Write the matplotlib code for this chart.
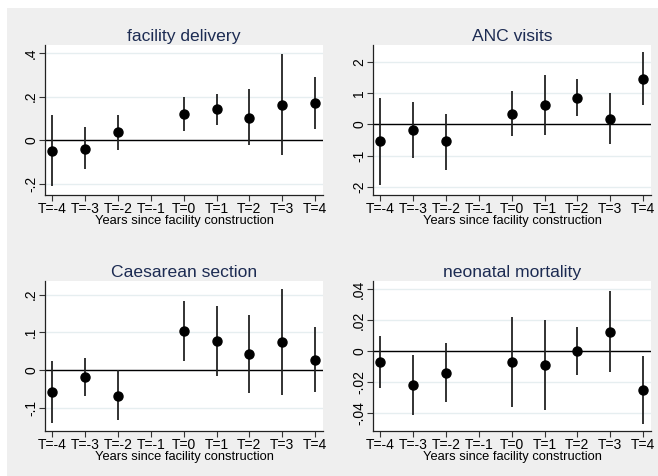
import matplotlib
matplotlib.use("Agg")
import matplotlib.pyplot as plt
from matplotlib.patches import Rectangle

plt.rcParams['font.family'] = ['Liberation Sans', 'DejaVu Sans']

t_labels = ["T=-4", "T=-3", "T=-2", "T=-1", "T=0", "T=1", "T=2", "T=3", "T=4"]
t_vals = [-4, -3, -2, -1, 0, 1, 2, 3, 4]
est_t = [-4, -3, -2, 0, 1, 2, 3, 4]

titles = ["facility delivery", "ANC visits", "Caesarean section", "neonatal mortality"]

fac_est = [-0.047, -0.038, 0.036, 0.120, 0.142, 0.103, 0.162, 0.170]
fac_lo = [-0.209, -0.133, -0.042, 0.041, 0.070, -0.023, -0.068, 0.052]
fac_hi = [0.117, 0.059, 0.114, 0.198, 0.214, 0.233, 0.394, 0.288]

anc_est = [-0.54, -0.17, -0.55, 0.34, 0.61, 0.84, 0.18, 1.44]
anc_lo = [-1.93, -1.09, -1.45, -0.39, -0.35, 0.26, -0.64, 0.60]
anc_hi = [0.84, 0.70, 0.34, 1.07, 1.56, 1.43, 1.00, 2.30]

cs_est = [-0.058, -0.019, -0.068, 0.104, 0.077, 0.042, 0.073, 0.027]
cs_lo = [-0.140, -0.070, -0.133, 0.024, -0.016, -0.060, -0.066, -0.058]
cs_hi = [0.024, 0.031, 0.000, 0.184, 0.170, 0.146, 0.215, 0.115]

nm_est = [-0.0069, -0.0220, -0.0138, -0.0067, -0.0088, 0.0000, 0.0125, -0.0252]
nm_lo = [-0.0237, -0.0414, -0.0330, -0.0358, -0.0380, -0.0157, -0.0132, -0.0468]
nm_hi = [0.0097, -0.0026, 0.0056, 0.0224, 0.0205, 0.0155, 0.0387, -0.0032]

yticks = [[-0.2, 0, 0.2, 0.4], [-2, -1, 0, 1, 2], [-0.1, 0, 0.1, 0.2], [-0.04, -0.02, 0, 0.02, 0.04]]
yticklabels = [["-.2", "0", ".2", ".4"], ["-2", "-1", "0", "1", "2"],
               ["-.1", "0", ".1", ".2"], ["-.04", "-.02", "0", ".02", ".04"]]
ylims = [(-0.25, 0.436), (-2.26, 2.53), (-0.162, 0.236), (-0.0516, 0.0454)]

series = [(fac_est, fac_lo, fac_hi), (anc_est, anc_lo, anc_hi),
          (cs_est, cs_lo, cs_hi), (nm_est, nm_lo, nm_hi)]

W, H = 658, 476
fig = plt.figure(figsize=(W / 100, H / 100), dpi=100)
fig.patch.set_facecolor("white")
fig.patches.append(Rectangle((7 / W, 0), 1 - 7 / W, 1 - 8 / H, transform=fig.transFigure,
                             facecolor="#EFEFEF", edgecolor="none", zorder=-10))

lefts = [45, 373, 45, 373]
tops = [45, 45, 281, 281]
pw, ph = 278, 150
title_color = "#1C2B52"

for i in range(4):
    ax = fig.add_axes([lefts[i] / W, 1 - (tops[i] + ph) / H, pw / W, ph / H])
    ax.set_facecolor("white")
    est, lo, hi = series[i]
    ax.set_xlim(-4.22, 4.24)
    ax.set_ylim(*ylims[i])
    for y in yticks[i]:
        ax.axhline(y, color="#E6EEF0", lw=1.0, zorder=0)
    ax.axhline(0, color="black", lw=1.0, zorder=1)
    ax.vlines(est_t, lo, hi, color="#222222", lw=1.3, zorder=2)
    ax.plot(est_t, est, "o", color="black", ms=6.5, zorder=3)
    ax.set_xticks(t_vals)
    ax.set_xticklabels(t_labels, fontsize=10)
    ax.set_yticks(yticks[i])
    ax.set_yticklabels(yticklabels[i], fontsize=10, rotation=90, va="center")
    ax.tick_params(direction="out", length=4, width=0.8, color="#333333", pad=1)
    for s in ["top", "right"]:
        ax.spines[s].set_visible(False)
    for s in ["left", "bottom"]:
        ax.spines[s].set_color("#222222")
        ax.spines[s].set_linewidth(0.9)
    ax.set_xlabel("Years since facility construction", fontsize=9.3, labelpad=-1)
    ax.set_title(titles[i], fontsize=12.6, color=title_color, pad=3)

fig.savefig("out.png", dpi=100)
